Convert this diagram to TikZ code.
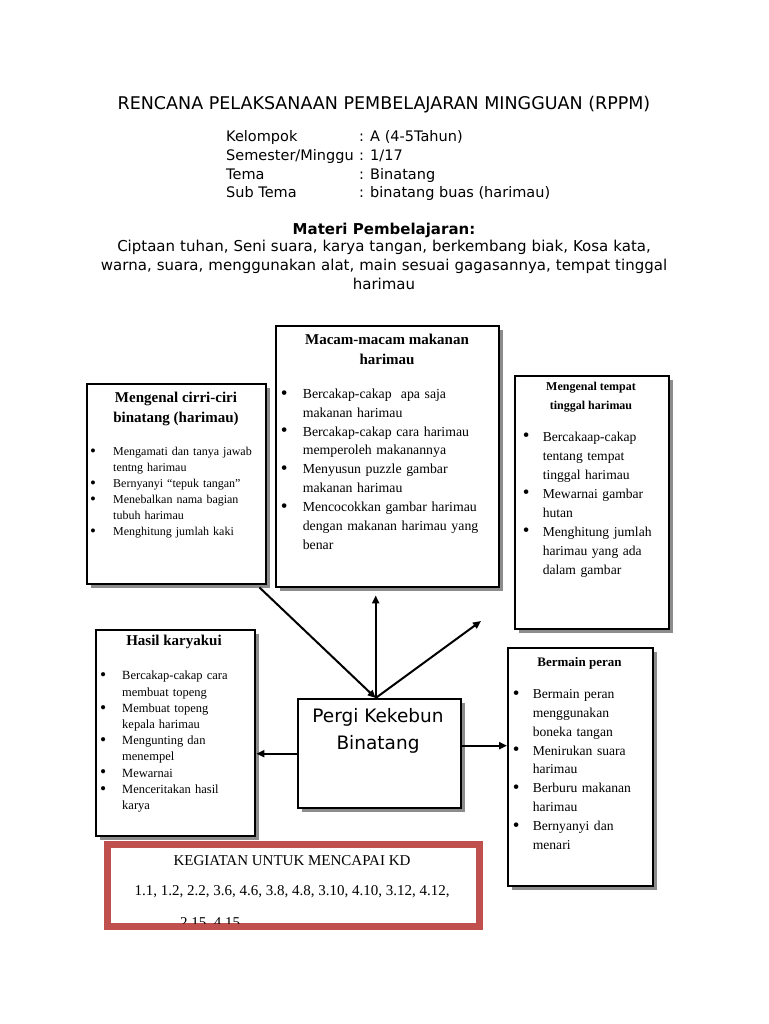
\documentclass[tikz,border=0pt]{standalone}
\usepackage{fontspec}
\usepackage{graphicx}
\setmainfont{Liberation Serif}
\newfontfamily\hdfont{DejaVu Sans}
\usetikzlibrary{arrows.meta, positioning, shadows}
\definecolor{kdred}{HTML}{C0504D}
\newcommand{\butir}[2][22pt]{\noindent\hangindent=#1\hangafter=1\makebox[#1][l]{\raisebox{-0.06em}{\scalebox{1.4}{\textbullet}}}#2\par}

\begin{document}
\begin{tikzpicture}[x=1pt, y=-1pt,
  kotak/.style={
    rectangle, draw=black, line width=2.4pt, fill=white, anchor=north west,
    drop shadow={shadow xshift=3.5pt, shadow yshift=-3.5pt, fill=black!45, opacity=1}
  },
  judulkotak/.style={anchor=north, align=center, inner sep=0pt},
  isikotak/.style={anchor=north west, inner sep=0pt, align=left},
  kepala/.style={font=\hdfont\fontsize{15}{19}\selectfont},
  kdteks/.style={font=\fontsize{15}{18}\selectfont, inner sep=0pt},
  panah/.style={-{Triangle[length=8pt, width=7pt]}, line width=2pt}
]
  \useasboundingbox (0,0) rectangle (768,1024);

  % Judul dan identitas
  \node[font=\hdfont\fontsize{17.5}{21}\selectfont, anchor=base, inner sep=0pt] (judul) at (384,109.5)
        {RENCANA PELAKSANAAN PEMBELAJARAN MINGGUAN (RPPM)};
  \node[font=\hdfont\fontsize{14.5}{18.7}\selectfont, anchor=base west, inner sep=0pt] (info) at (226,141.8)
        {\begin{tabular}[t]{@{}p{133pt}@{}l@{}}
          Kelompok        & : A (4-5Tahun)\\
          Semester/Minggu & : 1/17\\
          Tema            & : Binatang\\
          Sub Tema        & : binatang buas (harimau)
        \end{tabular}};
  \node[font=\hdfont\bfseries\fontsize{15}{19}\selectfont, anchor=base, inner sep=0pt] (materi) at (384,234)
        {Materi Pembelajaran:};
  \node[kepala, anchor=north, align=center, text width=660pt, inner sep=0pt] (cakupan) at (384,240)
        {Ciptaan tuhan, Seni suara, karya tangan, berkembang biak, Kosa kata,\\
         warna, suara, menggunakan alat, main sesuai gagasannya, tempat tinggal\\
         harimau};

  % Kotak kegiatan
  \node[kotak, minimum width=179pt, minimum height=200pt] (cirri)   at (86,383)  {};
  \node[kotak, minimum width=223pt, minimum height=261pt] (macam)   at (275,325) {};
  \node[kotak, minimum width=154pt, minimum height=253pt] (tempat)  at (514,375) {};
  \node[kotak, minimum width=159pt, minimum height=206pt] (hasil)   at (95,629)  {};
  \node[kotak, minimum width=145pt, minimum height=238pt] (bermain) at (507,647) {};
  \node[kotak, minimum width=163pt, minimum height=109pt] (pergi)   at (297,698) {};

  % Mengenal cirri-ciri
  \node[judulkotak, font=\bfseries\fontsize{15}{20}\selectfont] (cirrijudul) at (176,392)
        {Mengenal cirri-ciri\\binatang (harimau)};
  \node[isikotak, text width=174pt, font=\fontsize{12}{16}\selectfont] (cirriisi) at (90,447) {%
    \butir[23pt]{Mengamati dan tanya jawab\newline tentng harimau}%
    \butir[23pt]{Bernyanyi ``tepuk tangan''}%
    \butir[23pt]{Menebalkan nama bagian\newline tubuh harimau}%
    \butir[23pt]{Menghitung jumlah kaki}};

  % Macam-macam makanan
  \node[judulkotak, font=\bfseries\fontsize{15}{20}\selectfont] (macamjudul) at (387,333.5)
        {Macam-macam makanan\\harimau};
  \node[isikotak, text width=216pt, font=\fontsize{13.8}{18.9}\selectfont] (macamisi) at (280.6,388.5) {%
    \butir{Bercakap-cakap\ \ apa saja\newline makanan harimau}%
    \butir{Bercakap-cakap cara harimau\newline memperoleh makanannya}%
    \butir{Menyusun puzzle gambar\newline makanan harimau}%
    \butir{Mencocokkan gambar harimau\newline dengan makanan harimau yang\newline benar}};

  % Mengenal tempat tinggal
  \node[judulkotak, font=\bfseries\fontsize{12}{19}\selectfont] (tempatjudul) at (591,382)
        {Mengenal tempat\\tinggal harimau};
  \node[isikotak, text width=145pt, font=\fontsize{13.6}{19}\selectfont] (tempatisi) at (522.6,431.5) {%
    \butir[20pt]{Bercakaap-cakap\newline tentang tempat\newline tinggal harimau}%
    \butir[20pt]{Mewarnai gambar\newline hutan}%
    \butir[20pt]{Menghitung jumlah\newline harimau yang ada\newline dalam gambar}};

  % Hasil karyakui
  \node[judulkotak, font=\bfseries\fontsize{15}{20}\selectfont] (hasiljudul) at (174,634.5)
        {Hasil karyakui};
  \node[isikotak, text width=154pt, font=\fontsize{12.5}{16.2}\selectfont] (hasilisi) at (100,671) {%
    \butir{Bercakap-cakap cara\newline membuat topeng}%
    \butir{Membuat topeng\newline kepala harimau}%
    \butir{Mengunting dan\newline menempel}%
    \butir{Mewarnai}%
    \butir{Menceritakan hasil\newline karya}};

  % Bermain peran
  \node[judulkotak, font=\bfseries\fontsize{13}{18}\selectfont] (bermainjudul) at (579.5,657.5)
        {Bermain peran};
  \node[isikotak, text width=140pt, font=\fontsize{13.6}{18.8}\selectfont] (bermainisi) at (512.6,689.5) {%
    \butir[20pt]{Bermain peran\newline menggunakan\newline boneka tangan}%
    \butir[20pt]{Menirukan suara\newline harimau}%
    \butir[20pt]{Berburu makanan\newline harimau}%
    \butir[20pt]{Bernyanyi dan\newline menari}};

  % Tema utama
  \node[judulkotak, font=\hdfont\fontsize{18.5}{27}\selectfont] (pergiteks) at (378,708)
        {Pergi Kekebun\\Binatang};

  % Panah
  \coordinate (pusat) at ([xshift=-4pt]pergi.north);
  \coordinate (ujung) at (481,621);
  \draw[panah] ([xshift=-8pt, yshift=-2pt]cirri.south east) -- (pusat);
  \draw[panah, shorten >=7pt] (pusat) -- (pusat |- macam.south);
  \draw[panah] (pusat) -- (ujung);
  \draw[panah] (pergi.west) -- (pergi.west -| hasil.east);
  \draw[panah] ([yshift=8pt]pergi.east) -- ([yshift=8pt]pergi.east -| bermain.west);

  % Kegiatan untuk mencapai KD
  \node[rectangle, draw=kdred, line width=7pt, fill=white, anchor=north west,
        minimum width=372pt, minimum height=82pt,
        drop shadow={shadow xshift=2pt, shadow yshift=-2pt, fill=black!30, opacity=1}] (kd) at (104,841) {};
  \begin{scope}
    \clip ([xshift=7pt, yshift=-7pt]kd.north west) rectangle ([xshift=-7pt, yshift=7pt]kd.south east);
    \node[kdteks, anchor=base] (kdjudul) at (292,865) {KEGIATAN UNTUK MENCAPAI KD};
    \node[kdteks, anchor=base] (kdangka) at (292,895)
          {1.1, 1.2, 2.2, 3.6, 4.6, 3.8, 4.8, 3.10, 4.10, 3.12, 4.12,};
    \node[kdteks, anchor=base west] (kdsisa) at (180,927) {2.15, 4.15};
  \end{scope}
\end{tikzpicture}
\end{document}
